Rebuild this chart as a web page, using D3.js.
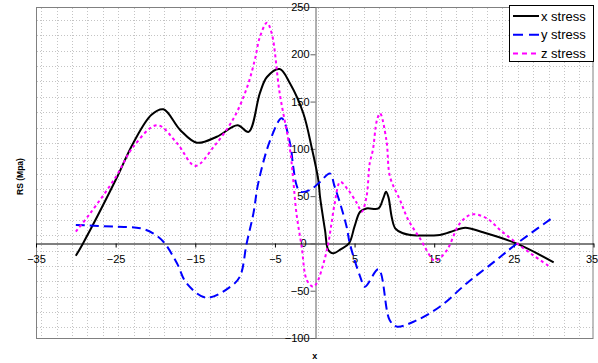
<!DOCTYPE html>
<html>
<head>
<meta charset="utf-8">
<script src="https://cdn.jsdelivr.net/npm/d3@7"></script>
<style>
  html, body { margin: 0; padding: 0; background: #fff; }
  svg { display: block; font-family: "Liberation Sans", Arial, sans-serif; }
</style>
</head>
<body>
<svg id="chart" width="598" height="363"></svg>
<script>
// ---- data ----
const seriesNames = ["x stress", "y stress", "z stress"];
const xTicks = [-35, -25, -15, -5, 5, 15, 25, 35];
const yTicks = [-100, -50, 0, 50, 100, 150, 200, 250];

const xStressX = [-30, -29.1, -25, -22.8, -20.5, -19, -16.9, -14.8, -12.3, -9.7, -8.3, -6.9, -6.0, -4.4, -3.1, -1.44, -0.4, 0.45, 0.66, 1.29, 1.7, 2.3, 3.3, 4.3, 5.0, 5.7, 6.5, 8.0, 8.6, 8.95, 9.25, 9.66, 10.1, 11, 12, 15.7, 17, 18.9, 21, 25.3, 30];
const xStressY = [-13, 0, 67, 106, 136, 141.8, 120, 106.5, 112.8, 125, 118, 158.7, 176, 184.4, 169, 137.6, 102, 67, 49.4, 14, -7, -10.5, -6, 0, 18, 33.5, 37, 37, 47.7, 54.7, 49, 28, 16, 11, 9, 9, 12, 16.6, 12, 0, -20];

const yStressX = [-30, -25, -21.9, -20.3, -19, -17.3, -16.1, -13.6, -10.6, -9.4, -8.55, -7.7, -7.1, -5.6, -4.15, -3.1, -2.7, -2.3, -1.85, -0.6, 0.66, 1.9, 2.5, 3.2, 4.0, 4.4, 5.7, 6.3, 8.0, 9.4, 10.3, 12.4, 15.7, 19.1, 22.8, 25.4, 30];
const yStressY = [19.5, 17.7, 16, 10.7, 1.8, -21, -42, -57.4, -45.8, -35, 0, 31.8, 63.5, 109, 132.3, 105.8, 81, 62, 54.7, 56.5, 65, 74, 60, 42, 17.7, 0, -35, -45.8, -27.4, -81, -88, -82.8, -67, -42, -17.6, 0, 28];

const zStressX = [-30, -28.2, -25, -22.8, -19.8, -17.3, -15, -12.7, -10.2, -8.5, -7.5, -6.9, -6.0, -5.4, -4.4, -3.1, -2.7, -2.3, -1.64, -1.0, -0.2, 0.25, 1.1, 1.7, 2.1, 2.5, 3.2, 4.2, 5.3, 5.9, 6.5, 6.9, 7.3, 7.8, 8.2, 9.0, 9.45, 10.7, 11.75, 13.2, 14.9, 15.3, 16.6, 18.2, 19.7, 21.6, 23.3, 25.4, 27.4, 29.5];
const zStressY = [12.4, 31.8, 70, 102, 125, 106, 82, 102, 132, 165, 195, 218, 233.4, 222, 158.7, 98.8, 67, 31.8, -3.5, -38.7, -45.8, -42, -21, 0, 21, 42, 65, 56.5, 42.4, 33.5, 49.4, 84.7, 98.8, 130, 137.6, 109, 70.5, 46, 24.7, 5.4, -17.6, -18, -7, 21, 30.7, 26.5, 14, 0, -12.3, -24.6];

// ---- layout ----
const svg = d3.select("#chart");
const plot = { left: 36, right: 593.5, top: 7, bottom: 338 };
const x = d3.scaleLinear().domain([-35, 35]).range([plot.left, plot.right]);
const y = d3.scaleLinear().domain([-100, 250]).range([plot.bottom, plot.top]);

// background dotted grid pattern (plot-area fill texture)
const gridStep = 15.37, gridX0 = 41.3, gridY0 = 20;
const g = svg.append("g");
for (let gx = gridX0; gx < plot.right; gx += gridStep) {
  const px = Math.round(gx) + 0.5;
  g.append("line").attr("x1", px).attr("x2", px).attr("y1", plot.top + 1).attr("y2", plot.bottom)
    .attr("stroke", "#c4c4c4").attr("stroke-width", 1).attr("stroke-dasharray", "1,2");
}
for (let gy = gridY0; gy < plot.bottom; gy += gridStep) {
  const py = Math.round(gy) + 0.5;
  g.append("line").attr("x1", plot.left + 1).attr("x2", plot.right).attr("y1", py).attr("y2", py)
    .attr("stroke", "#c4c4c4").attr("stroke-width", 1).attr("stroke-dasharray", "1,2");
}

// plot border
svg.append("rect")
  .attr("x", plot.left + 0.5).attr("y", plot.top + 0.5)
  .attr("width", plot.right - plot.left - 1).attr("height", plot.bottom - plot.top)
  .attr("fill", "none").attr("stroke", "#808080").attr("stroke-width", 1);

// axes
const xAxis = svg.append("g")
  .attr("transform", `translate(0,${Math.round(y(0)) + 0.5})`)
  .call(d3.axisBottom(x).tickValues(xTicks).tickSize(4).tickPadding(8).tickSizeOuter(0).tickFormat(d3.format("d")));
xAxis.select(".domain").attr("stroke", "#000");
xAxis.selectAll(".tick line").attr("stroke", "#000");
xAxis.selectAll("text").attr("font-size", 11).attr("fill", "#000").attr("font-family", "Liberation Sans, Arial, sans-serif")
  .attr("dx", d => d === 35 ? -2 : 0);

const yAxis = svg.append("g")
  .attr("transform", `translate(${Math.round(x(0)) + 0.5},0)`)
  .call(d3.axisLeft(y).tickValues(yTicks).tickSize(5).tickPadding(1).tickSizeOuter(0).tickFormat(d3.format("d")));
yAxis.select(".domain").attr("stroke", "#606060");
yAxis.selectAll(".tick line").attr("stroke", "#606060");
yAxis.selectAll("text").attr("font-size", 11).attr("fill", "#000").attr("font-family", "Liberation Sans, Arial, sans-serif")
  .attr("dx", d => d === 0 ? -3 : 0);

// series
const series = [
  { name: seriesNames[0], xs: xStressX, ys: xStressY, color: "#000000", dash: null },
  { name: seriesNames[1], xs: yStressX, ys: yStressY, color: "#0000ff", dash: "9,5" },
  { name: seriesNames[2], xs: zStressX, ys: zStressY, color: "#ff00ff", dash: "3,3" }
];
const line = d3.line().x(d => x(d[0])).y(d => y(d[1])).curve(d3.curveCatmullRom.alpha(0.5));
series.forEach(s => {
  const pts = s.xs.map((v, i) => [v, s.ys[i]]);
  svg.append("path").datum(pts)
    .attr("d", line)
    .attr("fill", "none")
    .attr("stroke", s.color)
    .attr("stroke-width", 2)
    .attr("stroke-dasharray", s.dash);
});

// axis titles
svg.append("text")
  .attr("transform", `translate(23,${(plot.top + plot.bottom) / 2 + 4}) rotate(-90)`)
  .attr("text-anchor", "middle").attr("font-size", 8.5).attr("font-weight", "bold")
  .text("RS (Mpa)");
svg.append("text")
  .attr("x", x(0)).attr("y", 359)
  .attr("text-anchor", "middle").attr("font-size", 9).attr("font-weight", "bold")
  .text("x");

// legend
const leg = svg.append("g");
leg.append("rect").attr("x", 509.5).attr("y", 5.5).attr("width", 84).attr("height", 56)
  .attr("fill", "#fff").attr("stroke", "#000").attr("stroke-width", 1);
const legDash = [null, "10,6", "5,4"];
series.forEach((s, i) => {
  const cy = 16 + i * 18.7;
  leg.append("line").attr("x1", 513).attr("x2", 539).attr("y1", cy).attr("y2", cy)
    .attr("stroke", s.color).attr("stroke-width", 2).attr("stroke-dasharray", legDash[i]);
  leg.append("text").attr("x", 541).attr("y", cy + 4.5).attr("font-size", 13).attr("fill", "#000")
    .text(s.name);
});
</script>
</body>
</html>
